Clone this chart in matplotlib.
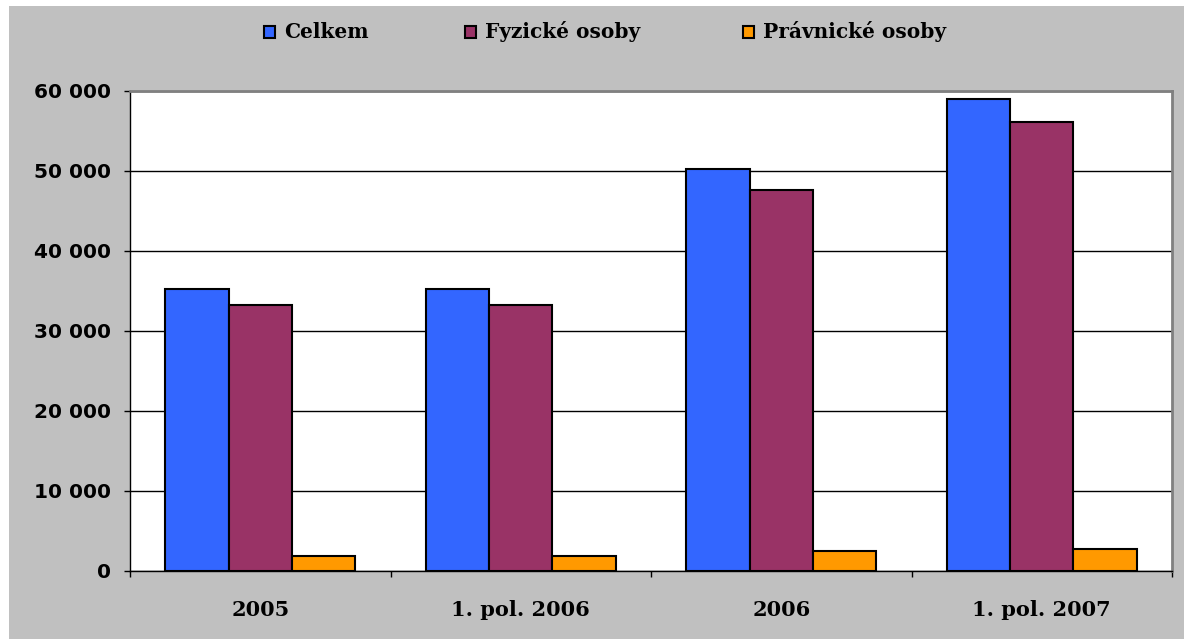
import matplotlib.pyplot as plt
import numpy as np
from matplotlib.patches import Rectangle
from matplotlib.ticker import FuncFormatter

# ===== data =====
obdobi = ['2005', '1. pol. 2006', '2006', '1. pol. 2007']
celkem = [35200, 35200, 50200, 59000]
fyzicke = [33300, 33300, 47600, 56100]
pravnicke = [1850, 1850, 2550, 2750]

serie = ['Celkem', 'Fyzické osoby', 'Právnické osoby']
barvy = ['#3366FF', '#993366', '#FF9900']
seda = '#C0C0C0'

W, H = 1184, 639
fig = plt.figure(figsize=(W / 100, H / 100), dpi=100, facecolor='white')

# gray chart area (thin white strip left/top)
fig.add_artist(Rectangle((9 / W, 0), 1 - 9 / W, 1 - 6 / H, transform=fig.transFigure,
                         facecolor=seda, edgecolor='none', zorder=-10))

ax = fig.add_axes([130 / W, (H - 571) / H, (1172 - 130) / W, (571 - 91) / H])
ax.set_facecolor('white')

x = np.arange(len(obdobi))
w = 0.243
for i, (vals, c) in enumerate(zip([celkem, fyzicke, pravnicke], barvy)):
    ax.bar(x + (i - 1) * w, vals, w, color=c, edgecolor='black', linewidth=1.5, zorder=3)

ax.set_xlim(-0.5, len(obdobi) - 0.5)
ax.set_ylim(0, 60000)
ax.set_yticks(np.arange(0, 60001, 10000))
ax.yaxis.set_major_formatter(FuncFormatter(lambda v, p: f'{int(v):,}'.replace(',', ' ')))
ax.grid(axis='y', color='black', linewidth=1, zorder=1)

# category labels between boundary ticks
ax.set_xticks(np.arange(-0.5, len(obdobi)), minor=False)
ax.set_xticklabels([])
ax.set_xticks(x, minor=True)
ax.set_xticklabels(obdobi, minor=True, fontfamily='DejaVu Serif', fontweight='bold', fontsize=15)
ax.tick_params(axis='x', which='minor', length=0, pad=21)
ax.tick_params(axis='x', which='major', length=4.5, width=1, color='black')
ax.tick_params(axis='y', length=4.5, width=1, pad=9)
for t in ax.get_yticklabels():
    t.set_fontfamily('DejaVu Sans')
    t.set_fontweight('bold')
    t.set_fontsize(14.5)

for s in ['left', 'bottom']:
    ax.spines[s].set_color('black')
    ax.spines[s].set_linewidth(1)
for s in ['top', 'right']:
    ax.spines[s].set_color('#808080')
    ax.spines[s].set_linewidth(2)

# legend along the top
leg_x = [264, 465, 743]
leg_y = 32
for px, name, c in zip(leg_x, serie, barvy):
    fig.add_artist(Rectangle((px / W, (H - leg_y - 6) / H), 11 / W, 12 / H,
                             transform=fig.transFigure, facecolor=c,
                             edgecolor='black', linewidth=1.5, zorder=2))
    fig.text((px + 20) / W, (H - leg_y) / H, name, fontfamily='DejaVu Serif',
             fontweight='bold', fontsize=14.5, va='center', ha='left')

fig.savefig('out.png', dpi=100, facecolor=fig.get_facecolor())
